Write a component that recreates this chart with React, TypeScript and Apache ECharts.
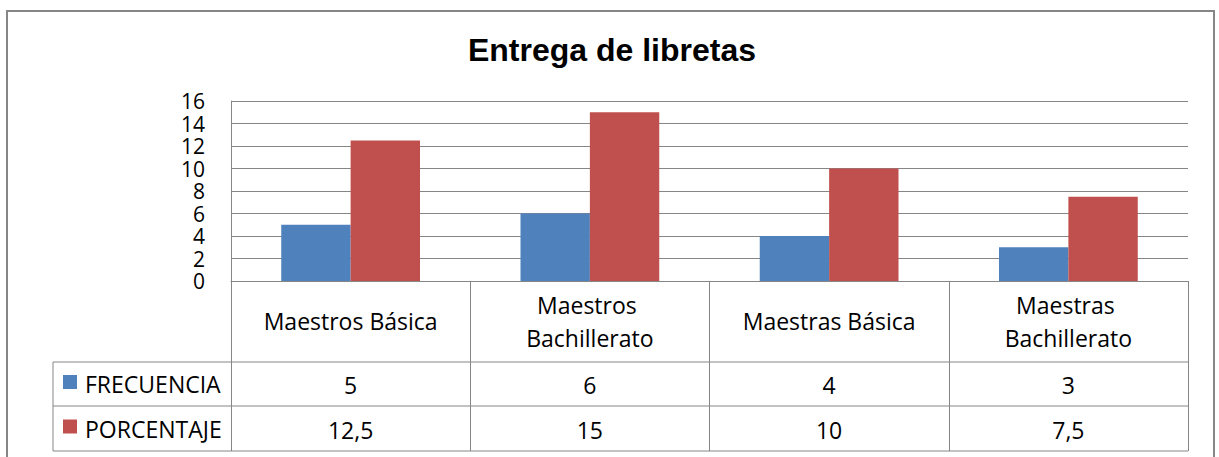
import React, { useEffect, useRef } from "react";
import * as echarts from "echarts";

const TITLE = "Entrega de libretas";
const categories = ["Maestros Básica", "Maestros Bachillerato", "Maestras Básica", "Maestras Bachillerato"];
const seriesNames = ["FRECUENCIA", "PORCENTAJE"];
const frecuencia = [5, 6, 4, 3];
const porcentaje = [12.5, 15, 10, 7.5];
const yTicks = { min: 0, max: 16, interval: 2 };
const colors = ["#4F81BD", "#C0504D"];

const FONT = "'Open Sans', 'Noto Sans', sans-serif";
const GRAY = "#868686";

const fmt = (v: number) => String(v).replace(".", ",");

export default function App() {
  const ref = useRef<HTMLDivElement>(null);
  useEffect(() => {
    if (!ref.current) return;
    const chart = echarts.init(ref.current, undefined, { renderer: "svg" });
    const gridLeft = 231, gridTop = 101, gridW = 957, gridH = 180;
    const tableLeft = 53;
    const rowLines = [362, 406, 451];
    chart.setOption({
      animation: false,
      backgroundColor: "#ffffff",
      grid: { left: gridLeft, top: gridTop, width: gridW, height: gridH, containLabel: false },
      xAxis: {
        type: "category",
        data: categories,
        axisLine: { show: true, lineStyle: { color: GRAY, width: 1 } },
        axisTick: { show: true, length: rowLines[2] - (gridTop + gridH), lineStyle: { color: GRAY, width: 1 } },
        axisLabel: {
          interval: 0,
          color: "#000",
          fontFamily: FONT,
          fontSize: 23,
          lineHeight: 33,
          width: 215,
          overflow: "break",
          margin: 40,
          verticalAlign: "middle",
        },
      },
      yAxis: {
        type: "value",
        min: yTicks.min,
        max: yTicks.max,
        interval: yTicks.interval,
        axisLine: { show: true, lineStyle: { color: GRAY, width: 1 } },
        axisTick: { show: false },
        splitLine: { show: true, lineStyle: { color: GRAY, width: 1 } },
        axisLabel: { color: "#000", fontFamily: FONT, fontSize: 21, lineHeight: 20, margin: 26 },
      },
      series: [
        {
          name: seriesNames[0],
          type: "bar",
          data: frecuencia,
          itemStyle: { color: colors[0] },
          barGap: "0%",
          barCategoryGap: "42%",
        },
        {
          name: seriesNames[1],
          type: "bar",
          data: porcentaje,
          itemStyle: { color: colors[1] },
          barGap: "0%",
          barCategoryGap: "42%",
        },
      ],
    });

    const xs = categories.map((_, i) => chart.convertToPixel({ xAxisIndex: 0 }, i) as number);
    const rows = [frecuencia, porcentaje];
    const rowCenters = [(rowLines[0] + rowLines[1]) / 2, (rowLines[1] + rowLines[2]) / 2];
    const graphic: any[] = [
      {
        type: "rect",
        shape: { x: 7, y: 11, width: 1207, height: 460 },
        style: { fill: "none", stroke: GRAY, lineWidth: 2 },
        silent: true,
      },
      {
        type: "text",
        x: 612,
        y: 50,
        style: {
          text: TITLE,
          fill: "#000",
          font: "bold 32px 'Liberation Sans', Arial, sans-serif",
          textAlign: "center",
          textVerticalAlign: "middle",
        },
      },
    ];
    rowLines.forEach((y) => {
      graphic.push({
        type: "line",
        shape: { x1: tableLeft, y1: y, x2: gridLeft + gridW, y2: y },
        style: { stroke: GRAY, lineWidth: 1 },
      });
    });
    graphic.push({
      type: "line",
      shape: { x1: tableLeft, y1: rowLines[0], x2: tableLeft, y2: rowLines[2] },
      style: { stroke: GRAY, lineWidth: 1 },
    });
    rows.forEach((vals, r) => {
      const cy = rowCenters[r];
      graphic.push({
        type: "rect",
        shape: { x: 63, y: cy - 9, width: 14, height: 14 },
        style: { fill: colors[r] },
      });
      graphic.push({
        type: "text",
        x: 85,
        y: cy,
        style: {
          text: seriesNames[r],
          fill: "#000",
          font: `23px ${FONT}`,
          textAlign: "left",
          textVerticalAlign: "middle",
        },
      });
      vals.forEach((v, i) => {
        graphic.push({
          type: "text",
          x: xs[i],
          y: cy + 1,
          style: {
            text: fmt(v),
            fill: "#000",
            font: `23px ${FONT}`,
            textAlign: "center",
            textVerticalAlign: "middle",
          },
        });
      });
    });
    chart.setOption({ graphic });
    return () => chart.dispose();
  }, []);
  return (
    <div
      ref={ref}
      style={{ position: "absolute", left: 0, top: 0, width: 1219, height: 457 }}
    />
  );
}
